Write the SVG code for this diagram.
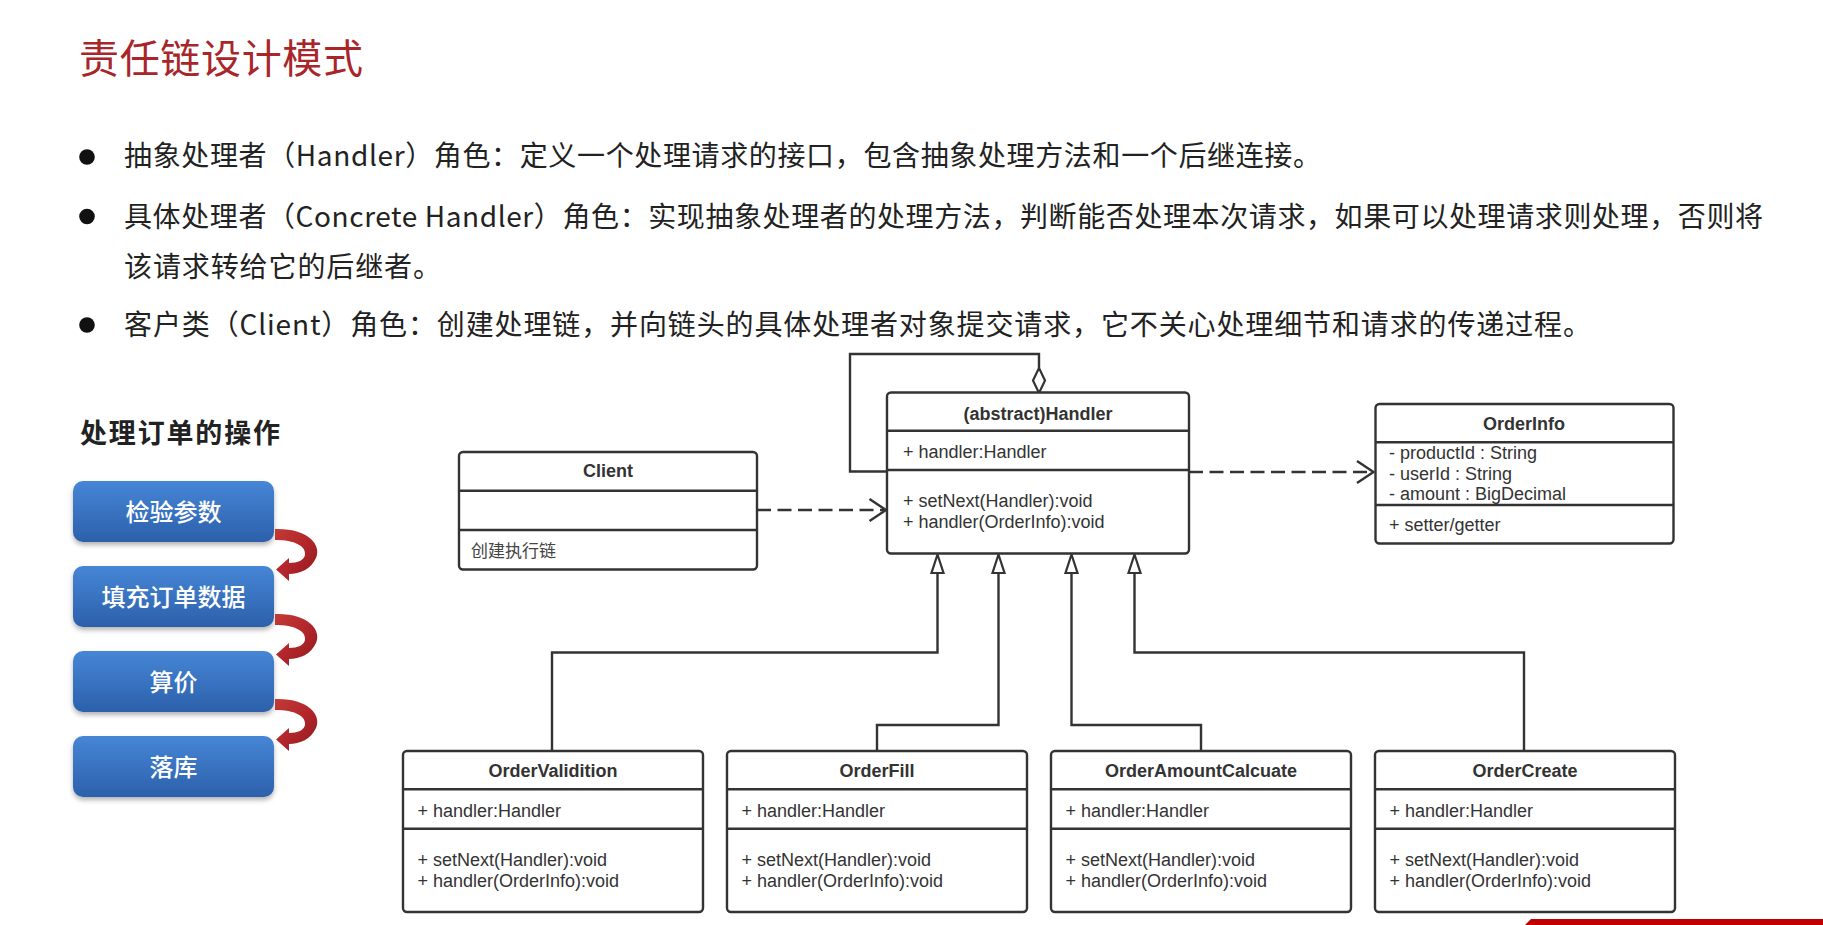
<svg xmlns="http://www.w3.org/2000/svg" width="1823" height="925" viewBox="0 0 1823 925">
<style>
.cjk{font-family:"Noto Sans CJK SC","Noto Sans",sans-serif;}
.title{font-size:40px;fill:#a8262a;}
.bul{font-size:28px;fill:#222;}
.sub{font-size:27px;font-weight:bold;fill:#222;}
.btxt{font-size:24px;fill:#fff;font-weight:500;text-anchor:middle;}
.box{fill:#fff;stroke:#333;stroke-width:2.4;}
.div{stroke:#333;stroke-width:2.4;}
.uh{font-family:"Liberation Sans",Arial,sans-serif;font-size:18px;font-weight:bold;fill:#333;text-anchor:middle;}
.um{font-family:"Liberation Sans",Arial,sans-serif;font-size:18px;fill:#333;}
.uc{font-family:"Noto Sans CJK SC",sans-serif;font-size:17px;fill:#444;}
.line{fill:none;stroke:#333;stroke-width:2.4;}
.dash{fill:none;stroke:#333;stroke-width:2.6;stroke-dasharray:14 6.5;}
.tri{fill:#fff;stroke:#333;stroke-width:2.2;}
</style>
<defs>
<linearGradient id="blue" x1="0" y1="0" x2="0" y2="1">
<stop offset="0" stop-color="#4686d6"/>
<stop offset="1" stop-color="#2c60ab"/>
</linearGradient>
<linearGradient id="red" x1="0" y1="0" x2="1" y2="1">
<stop offset="0" stop-color="#c23a35"/>
<stop offset="0.5" stop-color="#b3262b"/>
<stop offset="1" stop-color="#8e1a1d"/>
</linearGradient>
<filter id="sh" x="-10%" y="-10%" width="120%" height="140%">
<feDropShadow dx="0" dy="3" stdDeviation="2.5" flood-color="#000" flood-opacity="0.3"/>
</filter>
<path id="carrow" d="M 275 529 C 308 528 322 545 316 558 C 311 569 300 574 289 574 L 289 581 L 276 569.5 L 289 558 L 289 563 C 298 563 304 560 305 555 C 306 546 295 540 275 540 Z"/>
</defs>
<rect width="1823" height="925" fill="#fff"/>

<g id="heading">
<text class="cjk title" x="79" y="73" textLength="284">责任链设计模式</text>
</g>

<g id="bullets">
<circle cx="87" cy="157" r="7.8" fill="#111"/>
<circle cx="87" cy="216.5" r="7.8" fill="#111"/>
<circle cx="87" cy="325" r="7.8" fill="#111"/>
<text class="cjk bul" x="124" y="166" textLength="1197">抽象处理者（Handler）角色：定义一个处理请求的接口，包含抽象处理方法和一个后继连接。</text>
<text class="cjk bul" x="124" y="226.5" textLength="1639">具体处理者（Concrete Handler）角色：实现抽象处理者的处理方法，判断能否处理本次请求，如果可以处理请求则处理，否则将</text>
<text class="cjk bul" x="124" y="277" textLength="317">该请求转给它的后继者。</text>
<text class="cjk bul" x="124" y="334.5" textLength="1467">客户类（Client）角色：创建处理链，并向链头的具体处理者对象提交请求，它不关心处理细节和请求的传递过程。</text>
</g>

<g id="flow">
<text class="cjk sub" x="80" y="443" textLength="200">处理订单的操作</text>
<g id="step1">
<rect x="73" y="481" width="201" height="61" rx="10" fill="url(#blue)" filter="url(#sh)"/>
<text class="cjk btxt" x="173.5" y="521">检验参数</text>
</g>
<g id="step2">
<rect x="73" y="566" width="201" height="61" rx="10" fill="url(#blue)" filter="url(#sh)"/>
<text class="cjk btxt" x="173.5" y="606">填充订单数据</text>
</g>
<g id="step3">
<rect x="73" y="651" width="201" height="61" rx="10" fill="url(#blue)" filter="url(#sh)"/>
<text class="cjk btxt" x="173.5" y="691">算价</text>
</g>
<g id="step4">
<rect x="73" y="736" width="201" height="61" rx="10" fill="url(#blue)" filter="url(#sh)"/>
<text class="cjk btxt" x="173.5" y="776">落库</text>
</g>
<g id="flow-arrows" fill="url(#red)">
<use href="#carrow"/>
<use href="#carrow" transform="translate(0,85)"/>
<use href="#carrow" transform="translate(0,170)"/>
</g>
</g>

<g id="connectors">
<path class="line" d="M 887 471.5 H 850 V 354 H 1039 V 368"/>
<path class="tri" d="M 1039 368 L 1045 380.5 L 1039 393 L 1033 380.5 Z"/>
<path class="dash" d="M 757 510 H 884"/>
<path class="line" d="M 869.5 499 L 886 510 L 869.5 521"/>
<path class="dash" d="M 1189 472 H 1371"/>
<path class="line" d="M 1357 461 L 1373.5 472 L 1357 483"/>
<path class="line" d="M 552 751 V 652.5 H 937.5 V 573"/>
<path class="line" d="M 877 751 V 725 H 998.5 V 573"/>
<path class="line" d="M 1201 751 V 725 H 1071.5 V 573"/>
<path class="line" d="M 1524 751 V 652.5 H 1134.5 V 573"/>
<path class="tri" d="M 937.5 554.5 L 943.5 573 L 931.5 573 Z"/>
<path class="tri" d="M 998.5 554.5 L 1004.5 573 L 992.5 573 Z"/>
<path class="tri" d="M 1071.5 554.5 L 1077.5 573 L 1065.5 573 Z"/>
<path class="tri" d="M 1134.5 554.5 L 1140.5 573 L 1128.5 573 Z"/>
</g>

<g id="handler">
<rect class="box" x="887" y="392.5" width="302" height="161" rx="4"/>
<line class="div" x1="887" y1="430.7" x2="1189" y2="430.7"/>
<line class="div" x1="887" y1="470" x2="1189" y2="470"/>
<text class="uh" x="1038" y="420">(abstract)Handler</text>
<text class="um" x="903" y="458.3">+ handler:Handler</text>
<text class="um" x="903" y="506.7">+ setNext(Handler):void</text>
<text class="um" x="903" y="528.3">+ handler(OrderInfo):void</text>
</g>

<g id="client">
<rect class="box" x="459" y="452" width="298" height="117.5" rx="4"/>
<line class="div" x1="459" y1="490.7" x2="757" y2="490.7"/>
<line class="div" x1="459" y1="530" x2="757" y2="530"/>
<text class="uh" x="608" y="477">Client</text>
<text class="uc" x="471" y="557">创建执行链</text>
</g>

<g id="orderinfo">
<rect class="box" x="1375.5" y="404" width="298" height="139.5" rx="4"/>
<line class="div" x1="1375.5" y1="442.3" x2="1673.5" y2="442.3"/>
<line class="div" x1="1375.5" y1="505" x2="1673.5" y2="505"/>
<text class="uh" x="1524" y="430">OrderInfo</text>
<text class="um" x="1389" y="459.3">- productId : String</text>
<text class="um" x="1389" y="480">- userId : String</text>
<text class="um" x="1389" y="499.5">- amount : BigDecimal</text>
<text class="um" x="1389" y="530.7">+ setter/getter</text>
</g>

<g id="ordervalidition">
<rect class="box" x="403" y="751" width="300" height="161" rx="4"/>
<line class="div" x1="403" y1="789.3" x2="703" y2="789.3"/>
<line class="div" x1="403" y1="828.7" x2="703" y2="828.7"/>
<text class="uh" x="553" y="777">OrderValidition</text>
<text class="um" x="417.5" y="816.5">+ handler:Handler</text>
<text class="um" x="417.5" y="865.5">+ setNext(Handler):void</text>
<text class="um" x="417.5" y="887">+ handler(OrderInfo):void</text>
</g>

<g id="orderfill">
<rect class="box" x="727" y="751" width="300" height="161" rx="4"/>
<line class="div" x1="727" y1="789.3" x2="1027" y2="789.3"/>
<line class="div" x1="727" y1="828.7" x2="1027" y2="828.7"/>
<text class="uh" x="877" y="777">OrderFill</text>
<text class="um" x="741.5" y="816.5">+ handler:Handler</text>
<text class="um" x="741.5" y="865.5">+ setNext(Handler):void</text>
<text class="um" x="741.5" y="887">+ handler(OrderInfo):void</text>
</g>

<g id="orderamountcalcuate">
<rect class="box" x="1051" y="751" width="300" height="161" rx="4"/>
<line class="div" x1="1051" y1="789.3" x2="1351" y2="789.3"/>
<line class="div" x1="1051" y1="828.7" x2="1351" y2="828.7"/>
<text class="uh" x="1201" y="777">OrderAmountCalcuate</text>
<text class="um" x="1065.5" y="816.5">+ handler:Handler</text>
<text class="um" x="1065.5" y="865.5">+ setNext(Handler):void</text>
<text class="um" x="1065.5" y="887">+ handler(OrderInfo):void</text>
</g>

<g id="ordercreate">
<rect class="box" x="1375" y="751" width="300" height="161" rx="4"/>
<line class="div" x1="1375" y1="789.3" x2="1675" y2="789.3"/>
<line class="div" x1="1375" y1="828.7" x2="1675" y2="828.7"/>
<text class="uh" x="1525" y="777">OrderCreate</text>
<text class="um" x="1389.5" y="816.5">+ handler:Handler</text>
<text class="um" x="1389.5" y="865.5">+ setNext(Handler):void</text>
<text class="um" x="1389.5" y="887">+ handler(OrderInfo):void</text>
</g>

<polygon id="corner-bar" points="1531,919 1823,919 1823,925 1525,925" fill="#c00000"/>
</svg>
